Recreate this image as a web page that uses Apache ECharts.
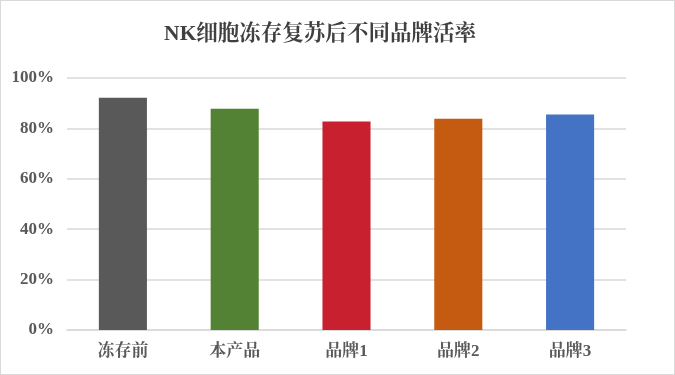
<!DOCTYPE html>
<html><head><meta charset="utf-8">
<script src="https://cdn.jsdelivr.net/npm/echarts@6/dist/echarts.min.js"></script>
<style>html,body{margin:0;padding:0;background:#fff}#c{width:675px;height:375px;box-sizing:border-box;border:1px solid #d9d9d9}</style>
</head><body><div id="c"></div>
<script>
var categories = ['冻存前','本产品','品牌1','品牌2','品牌3'];
var values = [92.2, 87.8, 82.7, 83.8, 85.5];
var colors = ['#595959','#548235','#C8202F','#C55A11','#4472C4'];
var yTicks = [0,20,40,60,80,100];
var chart = echarts.init(document.getElementById('c'));
var font = '"Liberation Serif","Noto Serif CJK SC","Noto Sans CJK SC",serif';
chart.setOption({
  animation:false,
  title:{text:'NK细胞冻存复苏后不同品牌活率',left:314,textAlign:'center',top:18,
    textStyle:{fontFamily:font,fontSize:21.5,fontWeight:'bold',color:'#404040'}},
  grid:{left:66,right:48,top:77,bottom:44},
  xAxis:{type:'category',data:categories,
    axisLine:{lineStyle:{color:'#d9d9d9',width:1.5}},axisTick:{show:false},
    axisLabel:{fontFamily:font,fontSize:17,fontWeight:'bold',color:'#595959',margin:13}},
  yAxis:{type:'value',min:0,max:100,interval:20,
    axisLine:{show:false},axisTick:{show:false},
    splitLine:{lineStyle:{color:'#d9d9d9',width:1.5}},
    axisLabel:{fontFamily:font,fontSize:17,fontWeight:'bold',color:'#595959',margin:13,
      formatter:function(v){return yTicks.indexOf(v)>=0? v+'%':'';}}},
  series:[{type:'bar',barWidth:'43%',
    data:values.map(function(v,i){return {value:v,itemStyle:{color:colors[i]}};})}]
});
</script></body></html>
